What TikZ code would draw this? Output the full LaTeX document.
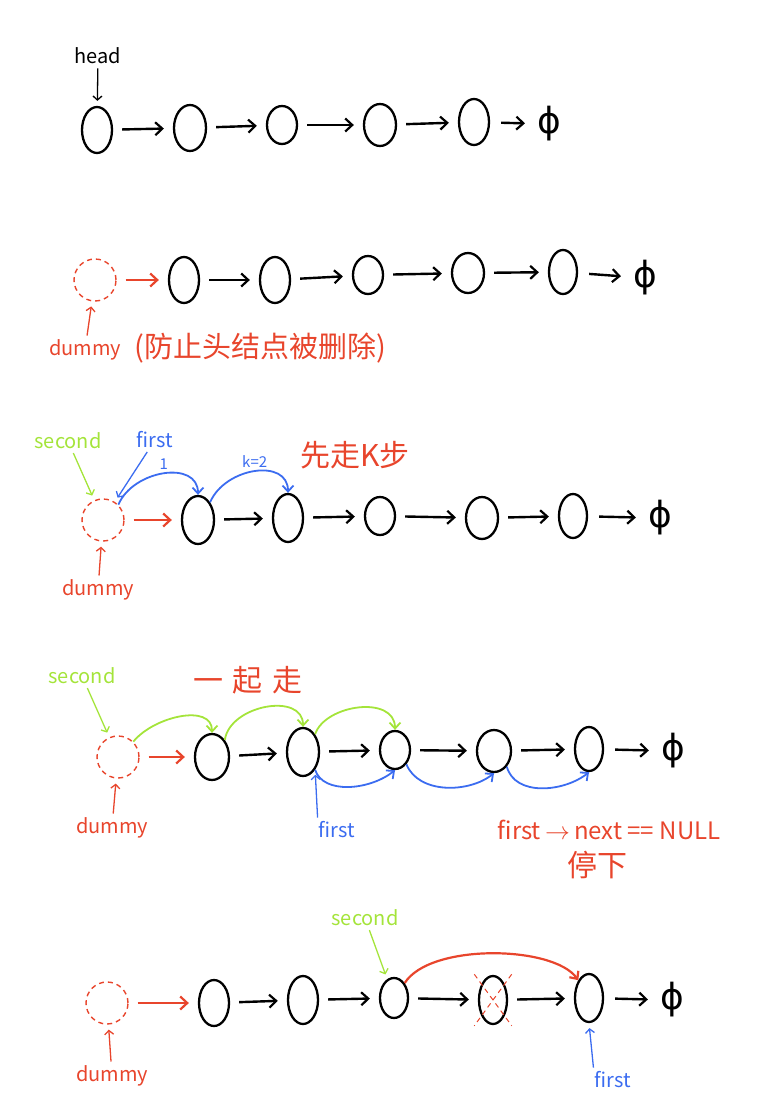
\documentclass[tikz,border=0pt]{standalone}
\usepackage{fontspec}
\setmainfont{Noto Sans CJK SC}
\newfontfamily\symfont{DejaVu Sans}
\usepackage{xcolor}
\usetikzlibrary{arrows.meta,positioning,shapes.geometric}
\definecolor{cred}{HTML}{E8452C}
\definecolor{cgreen}{HTML}{A4E43A}
\definecolor{cblue}{HTML}{3B6CF0}

\begin{document}
\begin{tikzpicture}[
    x=1pt, y=-1pt,
    nd/.style={draw, ellipse, line width=2.3pt, inner sep=0pt, minimum width=30pt, minimum height=46pt},
    dm/.style={draw=cred, circle, dash pattern=on 5pt off 4pt, line width=1.4pt, minimum size=42pt, inner sep=0pt},
    nul/.style={inner sep=0pt, font=\symfont\fontsize{36}{36}\selectfont},
    lbl/.style={inner sep=1pt, font=\fontsize{20}{20}\selectfont},
    big/.style={inner sep=1pt, font=\fontsize{29}{29}\selectfont, text=cred},
    arr/.style={-{Straight Barb[length=7pt,width=13pt,line width=2.2pt]}, line width=2.4pt, shorten <=9pt, shorten >=9pt},
    ptr/.style={-{Straight Barb[length=4pt,width=9pt]}, line width=1.3pt, shorten <=3pt, shorten >=5pt},
    hop/.style={-{Straight Barb[length=6pt,width=11pt]}, line width=1.8pt},
    last/.style={arr, shorten <=11pt, shorten >=12pt}
]
\useasboundingbox (0,0) rectangle (772,1108);

% row 1
\node[nd, minimum width=30pt, minimum height=46pt] (a1) at (97,130) {};
\node[nd, minimum width=32pt, minimum height=46pt] (a2) at (190,128) {};
\node[nd, minimum width=30pt, minimum height=38pt] (a3) at (282,125) {};
\node[nd, minimum width=32pt, minimum height=42pt] (a4) at (380,125) {};
\node[nd, minimum width=30pt, minimum height=46pt] (a5) at (474,122) {};
\node[nul] (z1) at (549,124) {ϕ};
\node[lbl] (head) at (98,56) {head};
\draw[ptr] (head) -- (a1);
\draw[arr] (a1) -- (a2);
\draw[arr] (a2) -- (a3);
\draw[arr] (a3) -- (a4);
\draw[arr] (a4) -- (a5);
\draw[last] (a5) -- (z1);

% row 2
\node[dm] (d2) at (95,280) {};
\node[nd, minimum width=30pt, minimum height=46pt] (b1) at (184,280) {};
\node[nd, minimum width=30pt, minimum height=46pt] (b2) at (275,280) {};
\node[nd, minimum width=30pt, minimum height=38pt] (b3) at (368,275) {};
\node[nd, minimum width=32pt, minimum height=40pt] (b4) at (468,273) {};
\node[nd, minimum width=28pt, minimum height=44pt] (b5) at (563,272) {};
\node[nul] (z2) at (645,278) {ϕ};
\node[lbl, text=cred] (dl2) at (85,350) {dummy};
\node[big] (note2) at (260,348) {(防止头结点被删除)};
\draw[ptr, draw=cred] (dl2) -- (d2);
\draw[arr, draw=cred] (d2) -- (b1);
\draw[arr] (b1) -- (b2);
\draw[arr] (b2) -- (b3);
\draw[arr] (b3) -- (b4);
\draw[arr] (b4) -- (b5);
\draw[last] (b5) -- (z2);

% row 3
\node[dm] (d3) at (103,520) {};
\node[nd, minimum width=32pt, minimum height=48pt] (c1) at (198,520) {};
\node[nd, minimum width=30pt, minimum height=48pt] (c2) at (288,518) {};
\node[nd, minimum width=30pt, minimum height=38pt] (c3) at (380,516) {};
\node[nd, minimum width=32pt, minimum height=42pt] (c4) at (482,518) {};
\node[nd, minimum width=28pt, minimum height=44pt] (c5) at (573,516) {};
\node[nul] (z3) at (660,518) {ϕ};
\node[lbl, text=cred] (dl3) at (98,590) {dummy};
\node[lbl, text=cgreen] (s3) at (68,441) {second};
\node[lbl, text=cblue] (f3) at (155,440) {first};
\node[big, font=\fontsize{30}{30}\selectfont] (t3) at (355,455) {先走K步};
\draw[ptr, draw=cred] (dl3) -- (d3);
\draw[ptr, draw=cgreen] (s3) -- (d3);
\draw[ptr, draw=cblue] (f3) -- (d3);
\draw[hop, draw=cblue] (d3.north east) .. controls +(15,-35) and +(0,-35) .. node[above, pos=0.5, text=cblue, font=\fontsize{15}{15}\selectfont] {1} (c1.north);
\draw[hop, draw=cblue] (c1.north east) .. controls +(15,-35) and +(0,-35) .. node[above, pos=0.5, text=cblue, font=\fontsize{15}{15}\selectfont] {k=2} (c2.north);
\draw[arr, draw=cred] (d3) -- (c1);
\draw[arr] (c1) -- (c2);
\draw[arr] (c2) -- (c3);
\draw[arr] (c3) -- (c4);
\draw[arr] (c4) -- (c5);
\draw[last] (c5) -- (z3);

% row 4
\node[dm] (d4) at (118,757) {};
\node[nd, minimum width=34pt, minimum height=46pt] (e1) at (212,757) {};
\node[nd, minimum width=32pt, minimum height=48pt] (e2) at (303,752) {};
\node[nd, minimum width=30pt, minimum height=38pt] (e3) at (395,750) {};
\node[nd, minimum width=34pt, minimum height=42pt] (e4) at (494,751) {};
\node[nd, minimum width=28pt, minimum height=44pt] (e5) at (589,749) {};
\node[nul] (z4) at (673,751) {ϕ};
\node[lbl, text=cred] (dl4) at (112,828) {dummy};
\node[lbl, text=cgreen] (s4) at (82,676) {second};
\node[lbl, text=cblue] (f4) at (337,830) {first};
\node[big, font=\fontsize{30}{30}\selectfont] (t4) at (248,680) {一\hspace{10pt}起\hspace{10pt}走};
\node[lbl, text=cred, font=\fontsize{24}{24}\selectfont] (n4) at (609,830) {first$\,\rightarrow\,$next == NULL};
\node[big, font=\fontsize{30}{30}\selectfont] (h4) at (597,865) {停下};
\draw[ptr, draw=cred] (dl4) -- (d4);
\draw[ptr, draw=cgreen] (s4) -- (d4);
\draw[ptr, draw=cblue] (f4.north west) -- (e2.south east);
\draw[hop, draw=cgreen] (d4.north east) .. controls +(20,-25) and +(0,-30) .. (e1.north);
\draw[hop, draw=cgreen] (e1.north east) .. controls +(5,-35) and +(0,-35) .. (e2.north);
\draw[hop, draw=cgreen] (e2.north east) .. controls +(10,-30) and +(0,-35) .. (e3.north);
\draw[hop, draw=cblue] (e2.south east) .. controls +(8,25) and +(-25,20) .. (e3.south);
\draw[hop, draw=cblue] (e3.south east) .. controls +(12,30) and +(-25,20) .. (e4.south);
\draw[hop, draw=cblue] (e4.south east) .. controls +(8,30) and +(-25,20) .. (e5.south);
\draw[arr, draw=cred] (d4) -- (e1);
\draw[arr] (e1) -- (e2);
\draw[arr] (e2) -- (e3);
\draw[arr] (e3) -- (e4);
\draw[arr] (e4) -- (e5);
\draw[last] (e5) -- (z4);

% row 5
\node[dm] (d5) at (107,1003) {};
\node[nd, minimum width=30pt, minimum height=46pt] (g1) at (214,1003) {};
\node[nd, minimum width=30pt, minimum height=48pt] (g2) at (303,1000) {};
\node[nd, minimum width=28pt, minimum height=40pt] (g3) at (394,998) {};
\node[nd, minimum width=28pt, minimum height=48pt] (g4) at (493,1000) {};
\node[nd, minimum width=28pt, minimum height=48pt] (g5) at (589,998) {};
\node[nul] (z5) at (672,1000) {ϕ};
\node[lbl, text=cred] (dl5) at (112,1076) {dummy};
\node[lbl, text=cgreen] (s5) at (365,918) {second};
\node[lbl, text=cblue] (f5) at (613,1080) {first};
\draw[ptr, draw=cred] (dl5) -- (d5);
\draw[ptr, draw=cgreen] (s5) -- (g3);
\draw[ptr, draw=cblue] (f5.north west) -- (g5.south);
\draw[cred, line width=1pt, dash pattern=on 5pt off 4pt] ([shift={(-8,-8)}]g4.north west) -- ([shift={(8,8)}]g4.south east);
\draw[cred, line width=1pt, dash pattern=on 5pt off 4pt] ([shift={(8,-8)}]g4.north east) -- ([shift={(-8,8)}]g4.south west);
\draw[hop, draw=cred, line width=2.2pt] (g3.north east) .. controls +(25,-40) and +(-25,-35) .. (g5.north west);
\draw[arr, draw=cred] (d5) -- (g1);
\draw[arr] (g1) -- (g2);
\draw[arr] (g2) -- (g3);
\draw[arr] (g3) -- (g4);
\draw[arr] (g4) -- (g5);
\draw[last] (g5) -- (z5);
\end{tikzpicture}
\end{document}
